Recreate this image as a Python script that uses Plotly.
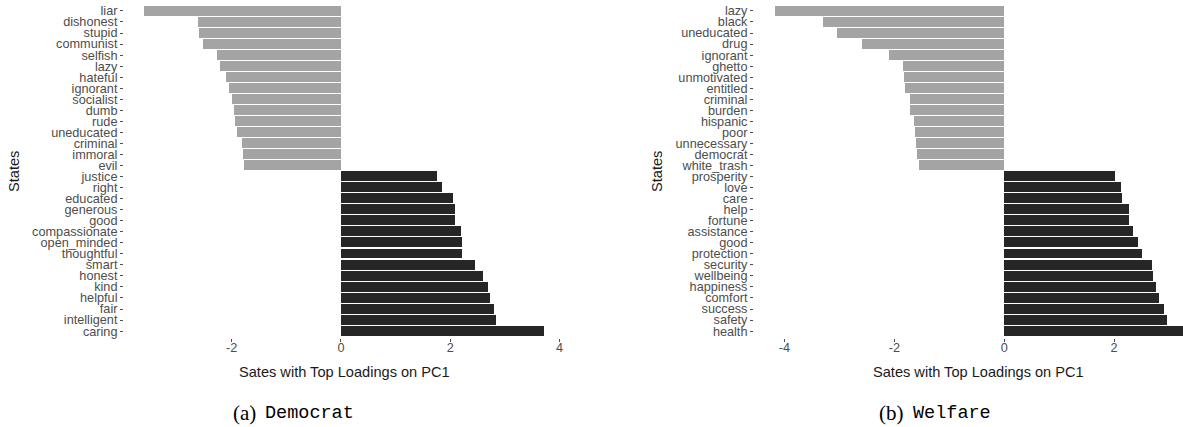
import plotly.graph_objects as go

# PC1 loadings, "Democrat" word set (top to bottom)
dem_words = ["liar", "dishonest", "stupid", "communist", "selfish", "lazy", "hateful",
             "ignorant", "socialist", "dumb", "rude", "uneducated", "criminal", "immoral",
             "evil", "justice", "right", "educated", "generous", "good", "compassionate",
             "open_minded", "thoughtful", "smart", "honest", "kind", "helpful", "fair",
             "intelligent", "caring"]
dem_loadings = [-3.60, -2.62, -2.60, -2.53, -2.26, -2.22, -2.10, -2.05, -1.99, -1.96,
                -1.94, -1.90, -1.82, -1.80, -1.77, 1.76, 1.84, 2.05, 2.08, 2.09, 2.20,
                2.22, 2.22, 2.46, 2.59, 2.69, 2.73, 2.80, 2.84, 3.71]

# PC1 loadings, "Welfare" word set (top to bottom)
wel_words = ["lazy", "black", "uneducated", "drug", "ignorant", "ghetto", "unmotivated",
             "entitled", "criminal", "burden", "hispanic", "poor", "unnecessary",
             "democrat", "white_trash", "prosperity", "love", "care", "help", "fortune",
             "assistance", "good", "protection", "security", "wellbeing", "happiness",
             "comfort", "success", "safety", "health"]
wel_loadings = [-4.18, -3.30, -3.04, -2.58, -2.10, -1.85, -1.83, -1.80, -1.72, -1.72,
                -1.65, -1.62, -1.60, -1.58, -1.55, 2.01, 2.12, 2.14, 2.28, 2.28, 2.35,
                2.44, 2.50, 2.69, 2.71, 2.77, 2.81, 2.91, 2.96, 3.30]

dem_ticks = [-2, 0, 2, 4]
wel_ticks = [-4, -2, 0, 2]

NEG_COLOR = "#a4a4a4"
POS_COLOR = "#262626"
W, H = 1183, 427


def px_x(p):
    return p / W


def px_y(p):
    return (H - p) / H


def colors(vals):
    return [NEG_COLOR if v < 0 else POS_COLOR for v in vals]


fig = go.Figure()
fig.add_trace(go.Bar(x=dem_loadings, y=dem_words, orientation="h", width=0.9,
                     marker=dict(color=colors(dem_loadings), line=dict(width=0)),
                     xaxis="x", yaxis="y", showlegend=False))
fig.add_trace(go.Bar(x=wel_loadings, y=wel_words, orientation="h", width=0.9,
                     marker=dict(color=colors(wel_loadings), line=dict(width=0)),
                     xaxis="x2", yaxis="y2", showlegend=False))

tick_font = dict(family="Liberation Sans, Arial, sans-serif", size=12.7, color="#4d4d4d")
y_dom = [px_y(337.7), px_y(4.3)]

common_x = dict(showgrid=False, zeroline=False, showline=False, ticks="outside",
                ticklen=3, tickwidth=1, tickcolor="#4d4d4d", tickfont=tick_font,
                tickmode="array", ticklabelstandoff=-5, automargin=False)
common_y = dict(type="category", showgrid=False, zeroline=False, showline=False,
                ticks="outside", ticklen=3, tickwidth=1, tickcolor="#4d4d4d",
                tickfont=tick_font, range=[29.6, -0.6], automargin=False,
                tickmode="array", categoryorder="array")

fig.update_layout(
    width=W, height=H,
    margin=dict(l=0, r=0, t=0, b=0),
    paper_bgcolor="white", plot_bgcolor="white",
    bargap=0,
    xaxis=dict(domain=[px_x(124), px_x(564)], range=[-3.97, 4.08], anchor="y",
               tickvals=dem_ticks, ticktext=[str(t) for t in dem_ticks], **common_x),
    yaxis=dict(domain=y_dom, anchor="x", categoryarray=dem_words,
               tickvals=dem_words, ticktext=dem_words, **common_y),
    xaxis2=dict(domain=[px_x(754), 1.0], range=[-4.554, 3.254], anchor="y2",
                tickvals=wel_ticks, ticktext=[str(t) for t in wel_ticks], **common_x),
    yaxis2=dict(domain=y_dom, anchor="x2", categoryarray=wel_words,
                tickvals=wel_words, ticktext=wel_words, **common_y),
)

title_font = dict(family="Liberation Sans, Arial, sans-serif", size=14.6, color="#1a1a1a")
annotations = [
    dict(text="Sates with Top Loadings on PC1", x=px_x(344), y=px_y(372)),
    dict(text="Sates with Top Loadings on PC1", x=px_x(978), y=px_y(372)),
    dict(text="States", x=px_x(14), y=px_y(172), textangle=-90),
    dict(text="States", x=px_x(657), y=px_y(172), textangle=-90),
]
for a in annotations:
    fig.add_annotation(xref="paper", yref="paper", showarrow=False, font=title_font,
                       xanchor="center", yanchor="middle", **a)

# subfigure captions: serif label + typewriter name
serif = dict(family="Liberation Serif, serif", size=21, color="black")
mono = dict(family="Liberation Mono, monospace", size=18.5, color="black")
for lab, name, x_lab, x_name in [("(a)", "Democrat", 258, 263), ("(b)", "Welfare", 906, 911)]:
    fig.add_annotation(xref="paper", yref="paper", showarrow=False, text=lab, font=serif,
                       x=px_x(x_lab), y=px_y(413), xanchor="right", yanchor="middle")
    fig.add_annotation(xref="paper", yref="paper", showarrow=False, text=name, font=mono,
                       x=px_x(x_name), y=px_y(413), xanchor="left", yanchor="middle")

fig.write_html("out.html")
